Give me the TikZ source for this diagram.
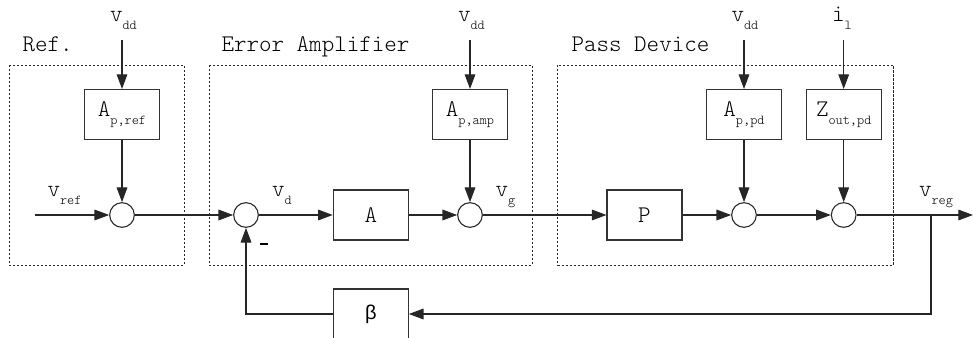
\documentclass[tikz,border=0pt]{standalone}
\usepackage{fontspec}
\newfontfamily\greekfont{Liberation Sans}
\newfontfamily\thinmono{Latin Modern Mono Light}
\usetikzlibrary{arrows.meta}
% lowered small subscript, as in typewriter-style block diagrams
\newcommand{\lowsub}[1]{\raisebox{-6pt}{\fontsize{10.2}{10}\selectfont #1}}
\begin{document}
\begin{tikzpicture}[x=0.75pt,y=-0.75pt,
  line width=0.8pt,
  every node/.style={font=\thinmono\fontsize{17.9}{18}\selectfont},
  wire/.style={draw=black!85, line width=0.8pt},
  sig/.style={wire, -{Triangle[length=11pt,width=8pt]}},
  blockbox/.style={draw=black!80, line width=0.8pt, minimum width=56.25pt, minimum height=37.5pt, inner sep=0pt},
  sumnode/.style={draw=black!85, line width=0.8pt, circle, minimum size=18.5pt, inner sep=0pt},
  stage/.style={draw=black!85, line width=0.7pt, dash pattern=on 1.6pt off 1.4pt},
  lbl/.style={anchor=base west, inner sep=0pt},
]
\useasboundingbox (0,0) rectangle (973,338);
\clip (0,0) rectangle (973,338);

% stage frames
\draw[stage] (9.3,65) rectangle (184,265);
\draw[stage] (209,65) rectangle (532,265);
\draw[stage] (557.7,65) rectangle (893.3,265);
\node[lbl] (tref) at (22,51.7) {Ref.};
\node[lbl] (tamp) at (221,51.7) {Error Amplifier};
\node[lbl] (tpd)  at (571,51.7) {Pass Device};

% blocks
\node[blockbox] (apref) at (122,114.5) {A\lowsub{p,ref}};
\node[blockbox] (apamp) at (470,114.5) {A\lowsub{p,amp}};
\node[blockbox] (appd)  at (744,114.5) {A\lowsub{p,pd}};
\node[blockbox] (zout)  at (843.7,114.5) {Z\lowsub{out,pd}};
\node[blockbox] (amp)   at (370.8,215) {A};
\node[blockbox] (pass)  at (644.5,215) {P};
\node[blockbox] (beta)  at (370.8,314) {\greekfont\fontsize{15}{16}\selectfont β};

% summing junctions
\node[sumnode] (s1) at (122,215) {};
\node[sumnode] (s2) at (246,215) {};
\node[sumnode] (s3) at (470,215) {};
\node[sumnode] (s4) at (744,215) {};
\node[sumnode] (s5) at (843.7,215) {};

% supply and load inputs
\coordinate (in1) at (122,40);
\coordinate (in2) at (470,40);
\coordinate (in3) at (744,40);
\coordinate (in4) at (843.7,40);
\node[lbl] (vdd1) at (109.5,21.7) {v\lowsub{dd}};
\node[lbl] (vdd2) at (457.5,21.7) {v\lowsub{dd}};
\node[lbl] (vdd3) at (731,21.7) {v\lowsub{dd}};
\node[lbl] (il)   at (831.5,21.7) {i\lowsub{l}};

\draw[sig] (in1) -- (apref);
\draw[sig] (in2) -- (apamp);
\draw[sig] (in3) -- (appd);
\draw[sig] (in4) -- (zout);
\draw[sig] (apref) -- (s1);
\draw[sig] (apamp) -- (s3);
\draw[sig] (appd) -- (s4);
\draw[sig] (zout) -- (s5);

% forward path
\coordinate (vin) at (35,215);
\coordinate (tap) at (931,215);
\coordinate (vout) at (973,215);
\draw[sig] (vin) -- (s1);
\draw[sig] (s1) -- (s2);
\draw[sig] (s2) -- (amp);
\draw[sig] (amp) -- (s3);
\draw[sig] (s3) -- (pass);
\draw[sig] (pass) -- (s4);
\draw[sig] (s4) -- (s5);
\draw[sig] (s5) -- (vout);
\fill[black!85] (tap) circle (0.9pt);

% feedback path
\coordinate (fbr) at (931,314);
\coordinate (fbl) at (246,314);
\draw[sig] (tap) -- (fbr) -- (beta);
\draw[sig] (beta) -- (fbl) -- (s2);

% signal labels
\node[lbl] (vref) at (47,196.7) {v\lowsub{ref}};
\node[lbl] (vd)   at (271.5,196.7) {v\lowsub{d}};
\node[lbl] (vg)   at (495,196.7) {v\lowsub{g}};
\node[lbl] (vreg) at (918.5,196.7) {v\lowsub{reg}};
\node[inner sep=0pt] (minus) at (264,246.5) {\fontsize{14}{14}\selectfont\rule[3.5pt]{5.5pt}{1.6pt}};
\end{tikzpicture}
\end{document}
